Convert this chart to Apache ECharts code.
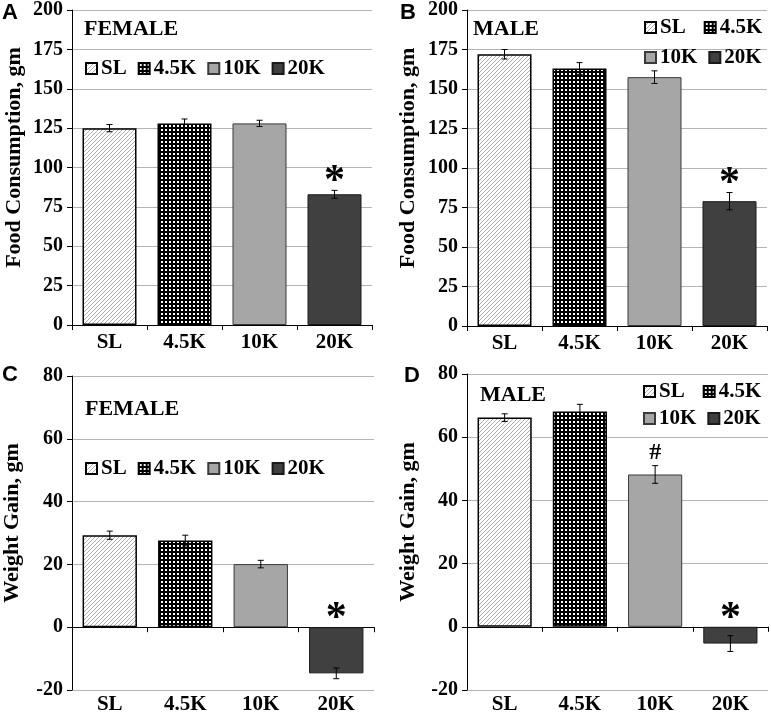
<!DOCTYPE html>
<html><head><meta charset="utf-8">
<script src="https://cdn.jsdelivr.net/npm/echarts@6/dist/echarts.min.js"></script>
<style>html,body{margin:0;padding:0;background:#fff}#c{width:771px;height:715px}</style>
</head><body><div id="c"></div>
<script>
// ---- data ----
const categories = ['SL', '4.5K', '10K', '20K'];
const foodFemale = [125, 128, 128, 83];
const foodFemaleErr = [2.3, 2.8, 2.0, 2.5];
const foodMale = [172, 163, 157.5, 79];
const foodMaleErr = [3.0, 3.7, 4.0, 5.5];
const gainFemale = [29.3, 27.6, 20.1, -14.7];
const gainFemaleErr = [1.3, 1.7, 1.2, 1.7];
const gainMale = [66.2, 68.1, 48.2, -5.3];
const gainMaleErr = [1.2, 2.3, 2.8, 2.5];
const annFoodFemale = ['', '', '', '*'];
const annFoodMale = ['', '', '', '*'];
const annGainFemale = ['', '', '', '*'];
const annGainMale = ['', '', '#', '*'];
const foodTicks = [0, 25, 50, 75, 100, 125, 150, 175, 200];
const gainTicks = [-20, 0, 20, 40, 60, 80];

// ---- patterns ----
function hatchPattern() {
  const c = document.createElement('canvas'); c.width = 4; c.height = 4;
  const g = c.getContext('2d');
  g.fillStyle = '#fff'; g.fillRect(0, 0, 4, 4);
  g.strokeStyle = '#adadad'; g.lineWidth = 1;
  g.beginPath();
  g.moveTo(0, 4); g.lineTo(4, 0);
  g.moveTo(-1, 1); g.lineTo(1, -1);
  g.moveTo(3, 5); g.lineTo(5, 3);
  g.stroke();
  return c;
}
function checkPattern() {
  const c = document.createElement('canvas'); c.width = 4; c.height = 4;
  const g = c.getContext('2d');
  g.fillStyle = '#000'; g.fillRect(0, 0, 4, 4);
  g.fillStyle = '#fff'; g.fillRect(1, 1, 2, 2);
  return c;
}
const styles = [
  { color: { image: hatchPattern(), repeat: 'repeat' }, borderColor: '#000', borderWidth: 1.5 },
  { color: { image: checkPattern(), repeat: 'repeat' }, borderColor: '#000', borderWidth: 1.5 },
  { color: '#a6a6a6', borderColor: '#3a3a3a', borderWidth: 1 },
  { color: '#404040', borderColor: '#1a1a1a', borderWidth: 1 }
];

const SERIF = '"Liberation Serif", "Times New Roman", serif';
const SANS = '"Liberation Sans", Arial, sans-serif';

const panels = [
  { vals: foodFemale, errs: foodFemaleErr, ann: annFoodFemale, ticks: foodTicks, title: 'Food Consumption, gm',
    grid: { left: 72, top: 7, width: 300, height: 318 }, gap: 47, dual: false },
  { vals: foodMale, errs: foodMaleErr, ann: annFoodMale, ticks: foodTicks, title: 'Food Consumption, gm',
    grid: { left: 467, top: 7, width: 300, height: 319 }, gap: 48, dual: false },
  { vals: gainFemale, errs: gainFemaleErr, ann: annGainFemale, ticks: gainTicks, title: 'Weight Gain, gm',
    grid: { left: 71, top: 376, width: 303, height: 318 }, gap: 49, dual: true },
  { vals: gainMale, errs: gainMaleErr, ann: annGainMale, ticks: gainTicks, title: 'Weight Gain, gm',
    grid: { left: 467, top: 374, width: 301, height: 319 }, gap: 48, dual: true }
];

const grid = [], xAxis = [], yAxis = [], series = [];
const labelStyle = { fontFamily: SERIF, fontWeight: 'bold', fontSize: 21, color: '#000' };

function errRender(params, api) {
  const x = api.value(0), v = api.value(1), e = api.value(2);
  const top = api.coord([x, v + e]), bot = api.coord([x, v - e]);
  const hw = 3, st = { stroke: '#000', lineWidth: 1 };
  return { type: 'group', children: [
    { type: 'line', shape: { x1: top[0], y1: top[1], x2: bot[0], y2: bot[1] }, style: st },
    { type: 'line', shape: { x1: top[0] - hw, y1: top[1], x2: top[0] + hw, y2: top[1] }, style: st },
    { type: 'line', shape: { x1: bot[0] - hw, y1: bot[1], x2: bot[0] + hw, y2: bot[1] }, style: st }
  ] };
}
function annRenderFactory(ann) {
  return function (params, api) {
    const i = api.value(0), v = api.value(1), e = api.value(2);
    const txt = ann[i];
    if (!txt) return null;
    const p = api.coord([i, Math.max(v + e, 0)]);
    const isStar = txt === '*';
    return { type: 'text', style: {
      text: txt, x: p[0], y: p[1] - (isStar ? 8 : 1),
      textAlign: 'center', textVerticalAlign: isStar ? 'middle' : 'bottom',
      font: isStar ? 'bold 42px ' + SERIF : 'bold 24px ' + SERIF, fill: '#000' } };
  };
}

panels.forEach((p, k) => {
  grid.push(p.grid);
  const xi = xAxis.length;
  xAxis.push({
    type: 'category', gridIndex: k, data: categories,
    axisLine: { onZero: true, lineStyle: { color: '#000', width: 1 } },
    axisTick: { show: true, length: 5, lineStyle: { color: '#000' } },
    axisLabel: p.dual ? { show: false } : Object.assign({ margin: 7 }, labelStyle),
    splitLine: { show: false }
  });
  if (p.dual) {
    xAxis.push({
      type: 'category', gridIndex: k, data: categories, position: 'bottom',
      axisLine: { show: false, onZero: false }, axisTick: { show: false },
      axisLabel: Object.assign({ margin: 4 }, labelStyle)
    });
  }
  yAxis.push({
    type: 'value', gridIndex: k,
    min: p.ticks[0], max: p.ticks[p.ticks.length - 1], interval: p.ticks[1] - p.ticks[0],
    axisLine: { show: true, lineStyle: { color: '#000', width: 1 } },
    axisTick: { show: true, length: 5, lineStyle: { color: '#000' } },
    axisLabel: { margin: 9, fontFamily: SERIF, fontWeight: 'bold', fontSize: 20, color: '#000' },
    splitLine: { show: true, lineStyle: { color: '#b4b4b4', width: 1 } },
    name: p.title, nameLocation: 'middle', nameGap: p.gap, nameRotate: 90,
    nameTextStyle: { fontFamily: SERIF, fontWeight: 'bold', fontSize: 22, color: '#000', padding: [0, 0, 0, 20] }
  });
  categories.forEach((c, j) => {
    series.push({
      type: 'bar', name: c, xAxisIndex: xi, yAxisIndex: k, stack: 'p' + k,
      barWidth: '72%',
      data: p.vals.map((v, i) => (i === j ? v : '-')),
      itemStyle: styles[j], emphasis: { disabled: true }, z: 2
    });
  });
  series.push({
    type: 'custom', xAxisIndex: xi, yAxisIndex: k, z: 5, silent: true,
    renderItem: errRender,
    data: p.vals.map((v, i) => [i, v, p.errs[i]])
  });
  series.push({
    type: 'custom', xAxisIndex: xi, yAxisIndex: k, z: 6, silent: true,
    renderItem: annRenderFactory(p.ann),
    data: p.vals.map((v, i) => [i, v, p.errs[i]])
  });
});

const legendBase = {
  selectedMode: false, icon: 'rect', itemWidth: 11, itemHeight: 11, itemGap: 11,
  textStyle: { fontFamily: SERIF, fontWeight: 'bold', fontSize: 21, color: '#000', padding: [0, 0, 0, -1] },
  padding: 0
};
const legend = [
  Object.assign({}, legendBase, { left: 85, top: 58, data: categories }),
  Object.assign({}, legendBase, { left: 644, top: 17, itemGap: 18, data: categories.slice(0, 2) }),
  Object.assign({}, legendBase, { left: 644, top: 47, itemGap: 11, data: categories.slice(2) }),
  Object.assign({}, legendBase, { left: 85, top: 458, data: categories }),
  Object.assign({}, legendBase, { left: 643, top: 381, itemGap: 18, data: categories.slice(0, 2) }),
  Object.assign({}, legendBase, { left: 643, top: 408, itemGap: 11, data: categories.slice(2) })
];

const tStyle = { fontFamily: SERIF, fontWeight: 'bold', fontSize: 22, color: '#000' };
const lStyle = { fontFamily: SANS, fontWeight: 'bold', fontSize: 22, color: '#000' };
const title = [
  { text: 'FEMALE', left: 84, top: 18, padding: 0, textStyle: tStyle },
  { text: 'MALE', left: 473, top: 18, padding: 0, textStyle: tStyle },
  { text: 'FEMALE', left: 85, top: 398, padding: 0, textStyle: tStyle },
  { text: 'MALE', left: 480, top: 384, padding: 0, textStyle: tStyle },
  { text: 'A', left: 2, top: 2, padding: 0, textStyle: lStyle },
  { text: 'B', left: 400, top: 2, padding: 0, textStyle: lStyle },
  { text: 'C', left: 2, top: 364, padding: 0, textStyle: lStyle },
  { text: 'D', left: 404, top: 365, padding: 0, textStyle: lStyle }
];

const chart = echarts.init(document.getElementById('c'), null, { renderer: 'canvas' });
chart.setOption({ animation: false, backgroundColor: '#fff', title, legend, grid, xAxis, yAxis, series });
</script></body></html>
